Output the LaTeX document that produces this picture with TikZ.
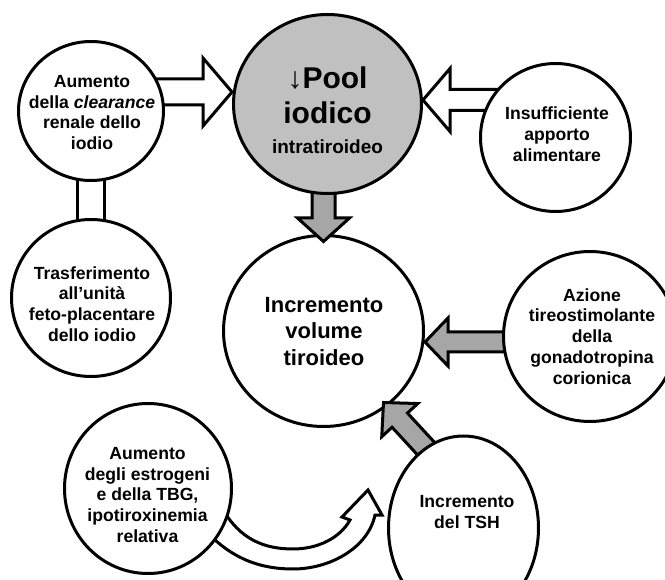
\documentclass[tikz,border=0pt]{standalone}
\usepackage{fontspec}
\setmainfont{Liberation Sans}
\usetikzlibrary{shapes.geometric,calc}
\definecolor{poolgray}{RGB}{192,192,192}
\definecolor{arrowgray}{RGB}{166,166,166}
\pgfdeclarelayer{volume}
\pgfdeclarelayer{arrows}
\pgfsetlayers{volume,arrows,main}

\tikzset{
  bubble/.style={ellipse, draw, line width=3pt, fill=white, inner sep=0pt},
  txt/.style={align=center, inner sep=0pt, font=\bfseries\fontsize{17.6}{20.8}\selectfont},
  blockline/.style={draw, line width=3pt, line join=miter},
}

% block arrow: [fill] {tail} {tip} {shaft half} {head half} {head length}
\newcommand{\blockarrow}[6][white]{%
  \coordinate (ba-h) at ($(#3)!#6!(#2)$);
  \draw[blockline, fill=#1]
    ($(#2)!#4!90:(#3)$) -- ($(ba-h)!#4!90:(#3)$) -- ($(ba-h)!#5!90:(#3)$) -- (#3)
    -- ($(ba-h)!#5!-90:(#3)$) -- ($(ba-h)!#4!-90:(#3)$) -- ($(#2)!#4!-90:(#3)$) -- cycle;
}

\begin{document}
\begin{tikzpicture}[x=1pt, y=-1pt]
  \useasboundingbox (0,0) rectangle (665,580);

  % bubbles
  \begin{pgfonlayer}{volume}
    \node[bubble, minimum width=200pt, minimum height=191pt] (V) at (323.5,331) {};
  \end{pgfonlayer}
  \node[bubble, fill=poolgray, minimum width=188pt, minimum height=179pt] (P) at (327.5,104) {};
  \node[bubble, minimum width=145pt, minimum height=139pt] (A) at (91,111) {};
  \node[bubble, minimum width=150pt, minimum height=148pt] (I) at (555.5,137.5) {};
  \node[bubble, minimum width=159pt, minimum height=157pt] (T) at (91,298) {};
  \node[bubble, minimum width=173pt, minimum height=170pt] (Z) at (590,336.5) {};
  \node[bubble, minimum width=167pt, minimum height=170pt] (E) at (148,488.5) {};
  \node[bubble, minimum width=150pt, minimum height=184pt] (H) at (463.5,528) {};

  % texts
  \node[txt] (A-txt) at (92,112.5) {Aumento\\della \textit{clearance}\\renale dello\\iodio};
  \node[txt, font=\bfseries\fontsize{30}{35}\selectfont] (P-txt) at (327.5,110.5)
    {{\mdseries ↓}Pool\\iodico\\[-5pt]{\fontsize{19}{19}\selectfont intratiroideo}};
  \node[txt] (I-txt) at (557,134) {Insufficiente\\apporto\\alimentare};
  \node[txt] (T-txt) at (92,304) {Trasferimento\\all'unità\\feto-placentare\\dello iodio};
  \node[txt, font=\bfseries\fontsize{22}{26.5}\selectfont] (V-txt) at (324,331.5) {Incremento\\volume\\tiroideo};
  \node[txt] (Z-txt) at (592,336.5) {Azione\\tireostimolante\\della\\gonadotropina\\corionica};
  \node[txt] (E-txt) at (147.5,495) {Aumento\\degli estrogeni\\e della TBG,\\ipotiroxinemia\\relativa};
  \node[txt] (H-txt) at (467,512) {Incremento\\del TSH};

  % arrows
  \begin{pgfonlayer}{arrows}
    \coordinate (ap) at (0,92);
    \coordinate (ip) at (0,100);
    \coordinate (zv) at (0,342);
    \coordinate (pv) at ([yshift=-7.5pt]V.north);
    \coordinate (hv-tip) at (383.5,402.5);
    \coordinate (hv-tail) at (471.5,498);
    \draw[blockline, fill=white] ([xshift=-13.5pt]A.center) rectangle ([xshift=13.5pt]T.center);
    \blockarrow{A.center |- ap}{P.west |- ap}{13pt}{34pt}{29pt}
    \blockarrow{I.center |- ip}{P.east |- ip}{10.5pt}{31.5pt}{27pt}
    \blockarrow[arrowgray]{V.center |- P.center}{pv}{11.5pt}{26pt}{23.5pt}
    \blockarrow[arrowgray]{Z.center |- zv}{V.east |- zv}{10pt}{24pt}{23pt}
    \blockarrow[arrowgray]{hv-tail}{hv-tip}{10.5pt}{24.5pt}{24pt}
    % curved arrow
    \draw[blockline, fill=white] (222,508) .. controls (240,540) and (265,549) .. (293,549)
      .. controls (318,549) and (340,538) .. (350,520) -- (342,517) -- (368,490) -- (382,515) -- (375,515)
      .. controls (368,548) and (330,569) .. (293,569) .. controls (255,569) and (228,555) .. (205,530) -- cycle;
  \end{pgfonlayer}
\end{tikzpicture}
\end{document}
